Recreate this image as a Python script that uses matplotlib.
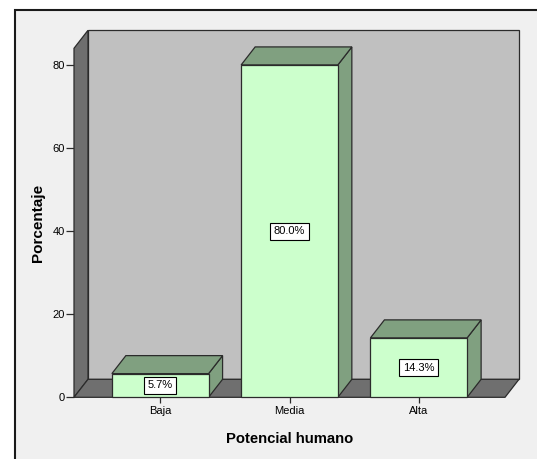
import numpy as np
import matplotlib.pyplot as plt
from matplotlib.patches import Polygon, Rectangle

plt.rcParams['font.family'] = ['Liberation Sans', 'DejaVu Sans']

# data
categories = ['Baja', 'Media', 'Alta']
percent = [5.7, 80.0, 14.3]
labels = ['5.7%', '80.0%', '14.3%']
yticks = [0, 20, 40, 60, 80]

W, H = 537, 459
fig = plt.figure(figsize=(W / 100, H / 100), dpi=100, facecolor='white')

# outer grey panel with black border (only top and left are visible)
fig.patches.append(Rectangle((15 / W, -0.1), 1.2, 1 - 10 / H + 0.1, transform=fig.transFigure,
                             facecolor='#f0f0f0', edgecolor='#1a1a1a', linewidth=1.5, zorder=-10))

# axes = front plane of the 3D box
left, right, top, bottom = 74, 505, 48.3, 397.3
ax = fig.add_axes([left / W, 1 - bottom / H, (right - left) / W, (bottom - top) / H])
ax.set_facecolor('none')
x0, x1 = -0.667, 2.667
ymax = 84
ax.set_xlim(x0, x1)
ax.set_ylim(0, ymax)

# depth offset (14 px right, 18 px up) in data units
dx = 14 / ((right - left) / (x1 - x0))
dy = 18 / ((bottom - top) / ymax)

edge = '#2b2b2b'
lw = 0.9
wall = '#6f6f6f'
back = '#c0c0c0'
front = '#ccffcc'
side = '#80a080'


def poly(pts, fc, z):
    ax.add_patch(Polygon(pts, closed=True, facecolor=fc, edgecolor=edge, linewidth=lw,
                         clip_on=False, zorder=z))


# back wall, left wall, floor
poly([(x0 + dx, dy), (x1 + dx, dy), (x1 + dx, ymax + dy), (x0 + dx, ymax + dy)], back, 1)
poly([(x0, 0), (x0 + dx, dy), (x0 + dx, ymax + dy), (x0, ymax)], wall, 2)
poly([(x0, 0), (x1, 0), (x1 + dx, dy), (x0 + dx, dy)], wall, 2)

# 3D bars
w = 0.748
for i, (v, lab) in enumerate(zip(percent, labels)):
    a, b = i - w / 2, i + w / 2
    poly([(b, 0), (b + dx, dy), (b + dx, v + dy), (b, v)], side, 3)
    poly([(a, v), (b, v), (b + dx, v + dy), (a + dx, v + dy)], side, 3)
    poly([(a, 0), (b, 0), (b, v), (a, v)], front, 4)
    ax.text(i, v / 2, lab, ha='center', va='center', fontsize=8, zorder=6,
            bbox=dict(boxstyle='square,pad=0.32', facecolor='white', edgecolor='black', linewidth=0.8))

ax.set_xticks(range(len(categories)))
ax.set_xticklabels(categories)
ax.set_yticks(yticks)
ax.tick_params(axis='y', direction='out', length=6, width=0.9, pad=0.5, labelsize=8, color=edge)
ax.tick_params(axis='x', direction='out', length=4.5, width=0.9, pad=1.5, labelsize=8, color=edge)
for s in ax.spines.values():
    s.set_visible(False)

ax.set_ylabel('Porcentaje', fontsize=11, fontweight='bold')
ax.yaxis.label.set_va('center')
ax.yaxis.set_label_coords((38 - left) / (right - left), 0.5)
ax.set_xlabel('Potencial humano', fontsize=10.7, fontweight='bold')
ax.xaxis.label.set_va('center')
ax.xaxis.set_label_coords(0.5, (bottom - 439) / (bottom - top))

fig.savefig('out.png', dpi=100, facecolor='white')
